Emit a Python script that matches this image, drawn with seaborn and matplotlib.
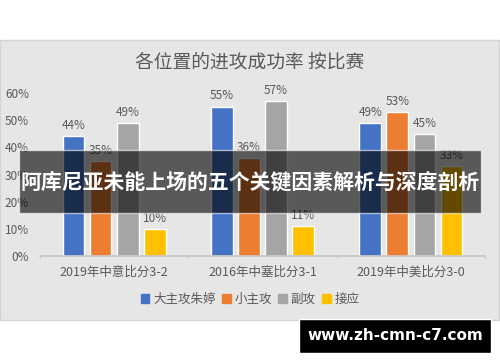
import matplotlib
matplotlib.use("Agg")
import pandas as pd
import seaborn as sns
from matplotlib import pyplot as plt
from matplotlib.patches import Rectangle

sns.set_theme(style="white")
plt.rcParams['font.family'] = ['Noto Sans CJK SC', 'DejaVu Sans']

matches = ['2019年中意比分3-2', '2016年中塞比分3-1', '2019年中美比分3-0']
positions = ['大主攻朱婷', '小主攻', '副攻', '接应']
rate_main = [44, 55, 49]
rate_minor = [35, 36, 53]
rate_middle = [49, 57, 45]
rate_opposite = [10, 11, 33]
palette = ['#4472C4', '#ED7D31', '#A5A5A5', '#FFC000']

rows = []
for series, vals in zip(positions, [rate_main, rate_minor, rate_middle, rate_opposite]):
    for m, v in zip(matches, vals):
        rows.append({'match': m, 'pos': series, 'rate': v})
df = pd.DataFrame(rows)

fig = plt.figure(figsize=(5, 3.62), dpi=100, facecolor='white')
# chart panel
fig.patches.append(Rectangle((0.0, 1 - 320 / 362), 0.998, 280 / 362, transform=fig.transFigure,
                             facecolor='#E6E6E6', edgecolor='#D4D4D4', linewidth=1, zorder=-1))

ax = fig.add_axes([0.08, 106 / 362, 0.89, 163 / 362])
ax.set_facecolor('none')
sns.barplot(data=df, x='match', y='rate', hue='pos', palette=palette, ax=ax,
            width=0.73, gap=0.2, saturation=1, legend=False)
for c in ax.containers:
    ax.bar_label(c, labels=[f'{v:.0f}%' for v in c.datavalues], padding=3,
                 fontsize=8.5, color='#595959')

ax.set_ylim(0, 60)
ax.set_xlim(-0.5, 2.5)
ax.set_yticks(range(0, 61, 10))
ax.set_yticklabels([f'{t}%' for t in range(0, 61, 10)])
ax.tick_params(axis='y', length=0, labelsize=8.5, labelcolor='#595959', pad=8)
ax.tick_params(axis='x', length=0, labelsize=9, labelcolor='#595959', pad=7)
ax.set_xlabel(None)
ax.set_ylabel(None)
for s in ['top', 'right', 'left']:
    ax.spines[s].set_visible(False)
ax.spines['bottom'].set_color('#C8C8C8')
for xs in [0.5, 1.5, 2.5, -0.5]:
    ax.plot([xs, xs], [0, -0.8], color='#C8C8C8', lw=0.8, clip_on=False)

fig.text(0.5, 1 - 62 / 362, '各位置的进攻成功率 按比赛', ha='center', va='center',
         fontsize=13.5, color='#595959')

handles = [Rectangle((0, 0), 1, 1, color=c) for c in palette]
fig.legend(handles, positions, loc='center', bbox_to_anchor=(0.5, 1 - 299 / 362), ncol=4,
           frameon=False, handlelength=0.7, handleheight=0.7, handletextpad=0.3,
           columnspacing=0.5, fontsize=9, labelcolor='#595959')

# banner overlay
fig.patches.append(Rectangle((19 / 500, 1 - 213 / 362), 462 / 500, 63 / 362, transform=fig.transFigure,
                             facecolor='black', alpha=0.61, zorder=5))
fig.text(0.5, 1 - 182 / 362, '阿库尼亚未能上场的五个关键因素解析与深度剖析', ha='center', va='center',
         fontsize=15, fontweight='bold', color='white', zorder=6)

# watermark
fig.patches.append(Rectangle((299 / 500, 1 - 353 / 362), 192 / 500, 34 / 362, transform=fig.transFigure,
                             facecolor='black', zorder=5))
fig.text(395 / 500, 1 - 336 / 362, 'www.zh-cmn-c7.com', ha='center', va='center',
         fontsize=11, fontweight='bold', color='white', family=['DejaVu Sans'], zorder=6)

fig.savefig('out.png', dpi=100, facecolor='white')
